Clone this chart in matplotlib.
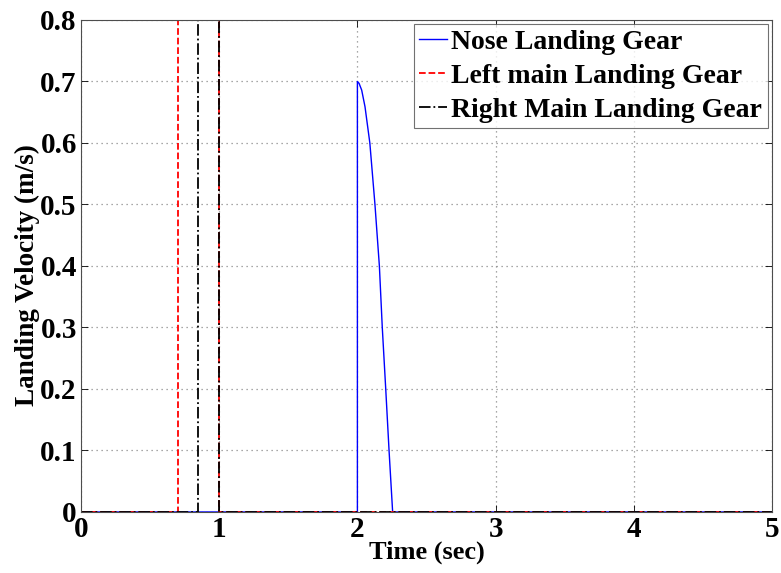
import numpy as np
import matplotlib.pyplot as plt

plt.rcParams['font.family'] = ['Liberation Serif', 'DejaVu Serif']
plt.rcParams['font.weight'] = 'bold'

# nose gear: jumps at t=2.0 and decays to zero near 2.26 s
nose_t = [0.0, 2.0, 2.0, 2.012, 2.031, 2.055, 2.09, 2.127, 2.159, 2.18, 2.205, 2.229, 2.255, 5.0]
nose_v = [0.0, 0.0, 0.70, 0.697, 0.686, 0.659, 0.60, 0.50, 0.40, 0.30, 0.20, 0.10, 0.0, 0.0]

# left main gear
left_t = [0.0, 0.7, 0.7, 1.0, 1.0, 5.0]
left_v = [0.0, 0.0, 0.8, 0.8, 0.0, 0.0]

# right main gear
right_t = [0.0, 0.85, 0.85, 1.0, 1.0, 5.0]
right_v = [0.0, 0.0, 0.8, 0.8, 0.0, 0.0]

fig = plt.figure(figsize=(7.81, 5.73), dpi=100)
ax = fig.add_axes([0.1037, 0.1065, 0.8848, 0.8586])

ax.plot(nose_t, nose_v, color='blue', lw=1.0, label='Nose Landing Gear')
ax.plot(left_t, left_v, color='red', lw=1.3, ls='--', label='Left main Landing Gear')
ax.plot(right_t, right_v, color='black', lw=1.3, ls='-.', label='Right Main Landing Gear')

ax.set_xlim(0, 5)
ax.set_ylim(0, 0.8)
ax.set_xticks([0, 1, 2, 3, 4, 5])
ax.set_yticks(np.arange(0, 0.81, 0.1))
ax.set_yticklabels(['0', '0.1', '0.2', '0.3', '0.4', '0.5', '0.6', '0.7', '0.8'])
ax.grid(True, color='0.55', ls=(0, (1, 3)), lw=0.9)
ax.tick_params(direction='in', top=True, right=True, labelsize=21, length=5, width=0.6, pad=3)
for s in ax.spines.values():
    s.set_linewidth(0.8)
    s.set_color('0.3')

ax.set_xlabel('Time (sec)', fontsize=19, fontweight='bold', labelpad=-2)
ax.set_ylabel('Landing Velocity (m/s)', fontsize=19.5, fontweight='bold')
ax.yaxis.set_label_coords(-0.059, 0.482)

leg = ax.legend(loc='upper right', fontsize=20, frameon=True, fancybox=False,
                handlelength=1.0, handletextpad=0.15, borderpad=0.2,
                labelspacing=0.3, borderaxespad=0.15)
leg.get_frame().set_edgecolor('0.3')
leg.get_frame().set_linewidth(0.8)
for t in leg.get_texts():
    t.set_fontweight('bold')

fig.savefig('out.png', dpi=100)
